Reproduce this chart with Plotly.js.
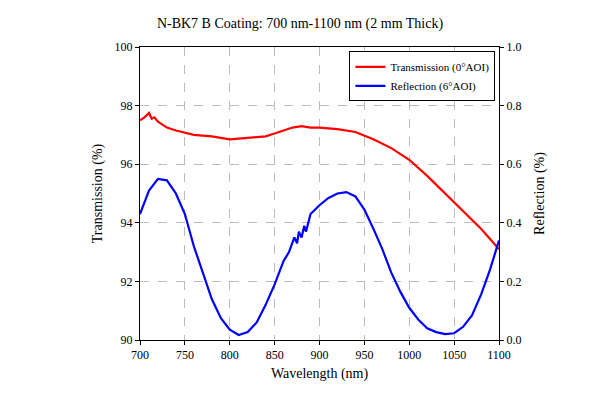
<!DOCTYPE html>
<html>
<head>
<script src="https://cdn.plot.ly/plotly-3.0.1.min.js"></script>
<style>body{margin:0}</style>
</head>
<body>
<div id="chart" style="width:600px;height:400px"></div>
<script>
// transmission (0° AOI), left axis
const transWl = [700, 705, 710, 713, 716, 720, 725, 730, 740, 760, 780, 800, 820, 840, 850, 860, 870, 880, 890, 900, 920, 940, 960, 980, 1000, 1020, 1040, 1060, 1080, 1100];
const transPct = [97.5, 97.6, 97.75, 97.55, 97.6, 97.45, 97.35, 97.25, 97.15, 97.0, 96.95, 96.85, 96.9, 96.95, 97.05, 97.15, 97.25, 97.3, 97.25, 97.25, 97.2, 97.1, 96.85, 96.55, 96.15, 95.6, 95.0, 94.4, 93.8, 93.1];

// reflection (6° AOI), right axis
const reflWl = [700, 710, 720, 730, 740, 750, 760, 770, 780, 790, 800, 810, 820, 830, 840, 850, 860, 866, 870, 872, 875, 877, 880, 883, 885, 890, 900, 910, 920, 930, 940, 950, 960, 970, 980, 990, 1000, 1010, 1020, 1030, 1040, 1050, 1060, 1070, 1080, 1090, 1100];
const reflPct = [0.43, 0.51, 0.55, 0.545, 0.50, 0.43, 0.32, 0.23, 0.14, 0.075, 0.035, 0.017, 0.027, 0.06, 0.12, 0.19, 0.27, 0.30, 0.33, 0.35, 0.33, 0.37, 0.35, 0.39, 0.37, 0.43, 0.46, 0.485, 0.50, 0.505, 0.49, 0.445, 0.38, 0.31, 0.23, 0.165, 0.11, 0.07, 0.04, 0.027, 0.02, 0.023, 0.045, 0.085, 0.155, 0.24, 0.34];

const font = { family: "Liberation Serif, Times New Roman, serif", color: "#000" };
const axisBase = {
  showline: true, linecolor: "#000", linewidth: 1, mirror: false,
  ticks: "outside", ticklen: 4, tickcolor: "#000",
  tickfont: { size: 12 }, zeroline: false
};

const data = [
  { x: transWl, y: transPct, type: "scatter", mode: "lines", name: "Transmission (0°AOI)",
    line: { color: "#ff0000", width: 2.2 } },
  { x: reflWl, y: reflPct, type: "scatter", mode: "lines", name: "Reflection (6°AOI)", yaxis: "y2",
    line: { color: "#0000ff", width: 2.2 } }
];

const layout = {
  width: 600, height: 400, font: font,
  margin: { l: 140, r: 101, t: 47, b: 60 },
  paper_bgcolor: "#fff", plot_bgcolor: "#fff",
  title: { text: "N-BK7 B Coating: 700 nm-1100 nm (2 mm Thick)", font: { size: 14 }, x: 0.5, y: 0.955 },
  xaxis: Object.assign({}, axisBase, {
    range: [700, 1100], dtick: 50, mirror: true,
    showgrid: true, gridcolor: "#bbb", griddash: "dash",
    title: { text: "Wavelength (nm)", font: { size: 14 }, standoff: 6 }
  }),
  yaxis: Object.assign({}, axisBase, {
    range: [90, 100], dtick: 2,
    showgrid: true, gridcolor: "#bbb", griddash: "dash",
    title: { text: "Transmission (%)", font: { size: 14 } }
  }),
  yaxis2: Object.assign({}, axisBase, {
    range: [0, 1], dtick: 0.2, tickformat: ".1f", overlaying: "y", side: "right",
    showgrid: false,
    title: { text: "Reflection (%)", font: { size: 14 } }
  }),
  legend: { x: 0.99, y: 0.985, xanchor: "right", yanchor: "top",
    bordercolor: "#000", borderwidth: 1, bgcolor: "#fff", font: { size: 11 },
    tracegroupgap: 0 }
};

Plotly.newPlot("chart", data, layout, { staticPlot: true });
</script>
</body>
</html>
